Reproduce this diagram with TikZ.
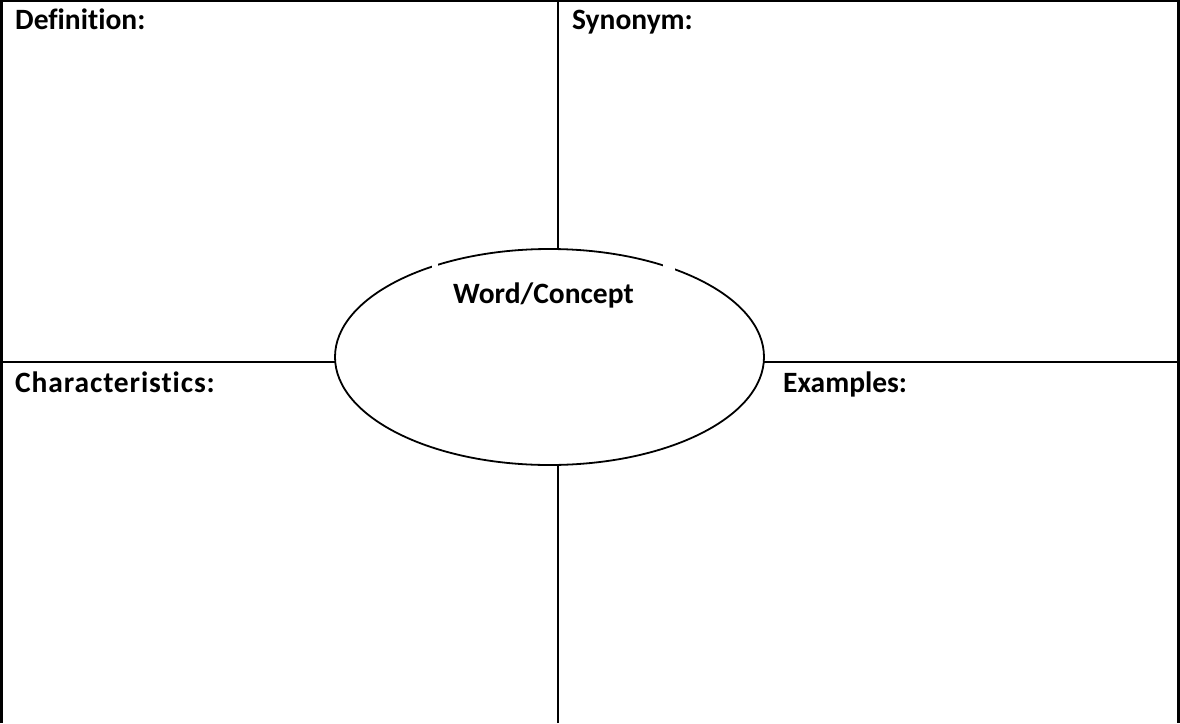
\documentclass[tikz,border=0pt]{standalone}
\usepackage{fontspec}
\setmainfont[Ligatures={NoCommon,NoContextual}]{Carlito}
\usetikzlibrary{shapes.geometric}
\tikzset{
  frameline/.style={line width=2.2pt, black},
  lbl/.style={anchor=base west, inner sep=0pt, font=\fontsize{29.5}{35}\selectfont\bfseries},
  bubble/.style={ellipse, draw, line width=1.8pt, minimum width=429pt, minimum height=216pt, inner sep=0pt},
  gap/.style={fill=white, draw=none}
}
\begin{document}
\begin{tikzpicture}[x=1pt,y=-1pt]
\useasboundingbox (0,0) rectangle (1180,723);
% outer frame (left, top, right)
\coordinate (bl) at (1.5,723);
\coordinate (tl) at (1.5,1.2);
\coordinate (tr) at (1178.5,1.2);
\coordinate (br) at (1178.5,723);
\draw[frameline] (bl) -- (tl) -- (tr) -- (br);
% central ellipse
\node[bubble] (word) at (549.5,357) {};
% white gaps on the ellipse top
\fill[gap] (431.5,261) rectangle (437.5,271);
\fill[gap] (663,262) rectangle (675,273);
% dividing lines
\coordinate (vt) at (558,1.2);
\coordinate (vb) at (558,723);
\coordinate (hl) at (1.5,362);
\coordinate (hr) at (1178.5,362);
\draw[frameline] (vt) -- (vt |- word.north);
\draw[frameline] (vb) -- (vb |- word.south);
\draw[frameline] (hl) -- (335.3,362);
\draw[frameline] (hr) -- (763.7,362);
% labels
\node[lbl] (def) at (15,29.5) {Definition:};
\node[lbl] (syn) at (572,29.5) {Synonym:};
\node[lbl] (cha) at (15,392.5) {\addfontfeatures{LetterSpace=3}Characteristics:};
\node[lbl] (exa) at (783,392.5) {Examples:};
\node[lbl] (wtext) at (453,303) {Word/Concept};
\end{tikzpicture}
\end{document}
